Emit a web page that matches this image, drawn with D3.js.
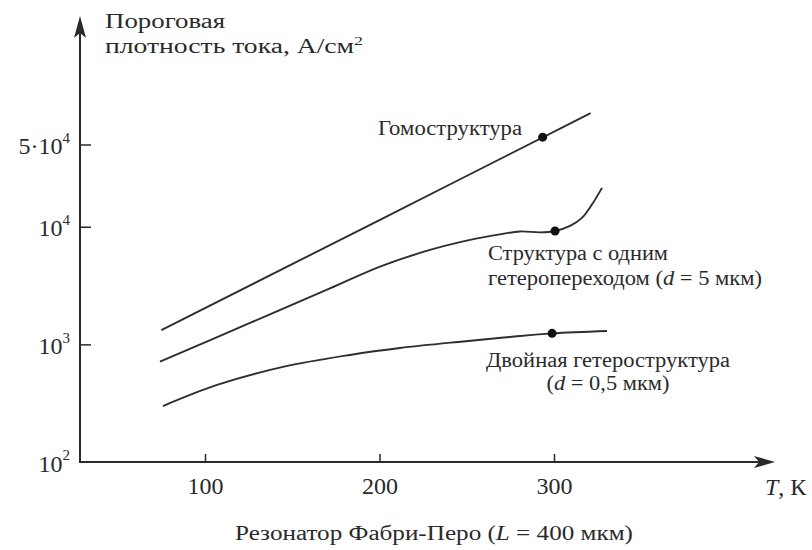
<!DOCTYPE html>
<html><head><meta charset="utf-8">
<script src="https://cdn.jsdelivr.net/npm/d3@7"></script>
<style>
body{margin:0;background:#fff}
text{font-family:"Liberation Serif","Times New Roman",serif;fill:#2a2a2a}
</style>
</head><body>
<svg id="c" width="812" height="550"></svg>
<script>
// ---- data ----
const homoT = [75, 200, 321];
const homoJ = [1320, 11400, 92300];
const homoMarker = [293.5, 57700];

const singleT = [74.2, 125.8, 171.6, 200.3, 228.9, 251.9, 269.1, 280.5, 292, 300.6, 309.2, 316, 322.3, 327.5];
const singleJ = [713, 1521, 2985, 4580, 6350, 7730, 8610, 9120, 8950, 9200, 10160, 11890, 15900, 21380];
const singleMarker = [300.6, 9200];

const doubleT = [75.9, 106.9, 144.7, 183.1, 211.7, 247.9, 274.8, 298.9, 330.4];
const doubleJ = [299, 452, 643, 813, 931, 1059, 1156, 1240, 1300];
const doubleMarker = [298.9, 1240];

const xTicks = [100, 200, 300];
const yTicks = [100, 1000, 10000, 50000];
const yTickBase = ["10", "10", "10", "5·10"];
const yTickExp = ["2", "3", "4", "4"];

// ---- layout ----
const svg = d3.select("#c");
const ink = "#2a2a2a";
const x = d3.scaleLinear().domain([100, 300]).range([205, 554]);
const y = d3.scaleLog().domain([100, 50000]).range([462, 144.5]);
const x0 = 80, yBase = y(100), xTip = 775, yTip = 16;

// axes lines with arrows
svg.append("line").attr("x1", x0).attr("y1", yBase).attr("x2", xTip - 10).attr("y2", yBase)
  .attr("stroke", ink).attr("stroke-width", 2);
svg.append("line").attr("x1", x0).attr("y1", yBase + 1).attr("x2", x0).attr("y2", yTip + 10)
  .attr("stroke", ink).attr("stroke-width", 2);
svg.append("path").attr("fill", ink)
  .attr("d", `M${xTip},${yBase} L${xTip-21},${yBase-6} L${xTip-16},${yBase} L${xTip-21},${yBase+6} Z`);
svg.append("path").attr("fill", ink)
  .attr("d", `M${x0},${yTip} L${x0-6},${yTip+22} L${x0},${yTip+17} L${x0+6},${yTip+22} Z`);

// x axis ticks
const gx = svg.append("g").attr("transform", `translate(0,${yBase})`)
  .call(d3.axisBottom(x).tickValues(xTicks).tickSizeInner(-8).tickSizeOuter(0).tickPadding(15).tickFormat(d3.format("d")));
gx.select(".domain").remove();
gx.selectAll(".tick line").attr("stroke", ink).attr("stroke-width", 1.5);
gx.selectAll(".tick text").attr("font-size", 24).attr("font-family", null).attr("fill", ink);

// y axis ticks
const gy = svg.append("g").attr("transform", `translate(${x0},0)`)
  .call(d3.axisLeft(y).tickValues(yTicks).tickSizeInner(-11).tickSizeOuter(0).tickPadding(10).tickFormat(() => ""));
gy.select(".domain").remove();
gy.selectAll(".tick line").attr("stroke", ink).attr("stroke-width", 1.5)
  .style("display", (d) => d === 100 ? "none" : null);
gy.selectAll(".tick text").attr("font-size", 24).attr("font-family", null).attr("fill", ink)
  .attr("dy", "0.38em")
  .each(function (d, i) {
    const t = d3.select(this);
    t.text(null);
    t.append("tspan").text(yTickBase[i]);
    t.append("tspan").attr("font-size", 15).attr("dy", "-0.75em").text(yTickExp[i]);
  });

// curves
const line = d3.line().x(d => x(d[0])).y(d => y(d[1])).curve(d3.curveCatmullRom.alpha(0.5));
const series = [
  [homoT, homoJ, homoMarker],
  [singleT, singleJ, singleMarker],
  [doubleT, doubleJ, doubleMarker]
];
series.forEach(([T, J, m]) => {
  svg.append("path").datum(T.map((t, i) => [t, J[i]]))
    .attr("d", line).attr("fill", "none").attr("stroke", "#2e2e2e").attr("stroke-width", 1.9);
  svg.append("circle").attr("cx", x(m[0])).attr("cy", y(m[1])).attr("r", 4.5).attr("fill", "#111");
});

// texts
function label(xp, yp, parts, len, anchor) {
  const t = svg.append("text").attr("x", xp).attr("y", yp).attr("font-size", 20)
    .attr("text-anchor", anchor || "start");
  parts.forEach(p => {
    const s = t.append("tspan").text(p[0]);
    if (p[1] === "i") s.attr("font-style", "italic");
    if (p[1] === "sup") s.attr("font-size", 13).attr("dy", "-0.6em");
  });
  if (len) t.attr("textLength", len).attr("lengthAdjust", "spacingAndGlyphs");
  return t;
}
label(105, 28, [["Пороговая"]], 120);
label(105, 53, [["плотность тока, А/см"], ["2", "sup"]], 258);
label(378, 135, [["Гомоструктура"]], 144);
label(488, 260, [["Структура с одним"]], 180);
label(488, 285, [["гетеропереходом ("], ["d", "i"], [" = 5 мкм)"]], 274);
label(608, 367, [["Двойная гетероструктура"]], 244, "middle");
label(608, 390, [["("], ["d", "i"], [" = 0,5 мкм)"]], 123, "middle");
const tk = svg.append("text").attr("x", 765).attr("y", 495).attr("font-size", 24);
tk.append("tspan").attr("font-style", "italic").text("T");
tk.append("tspan").text(", К");
label(434, 540, [["Резонатор Фабри-Перо ("], ["L", "i"], [" = 400 мкм)"]], 398, "middle");
</script>
</body></html>
